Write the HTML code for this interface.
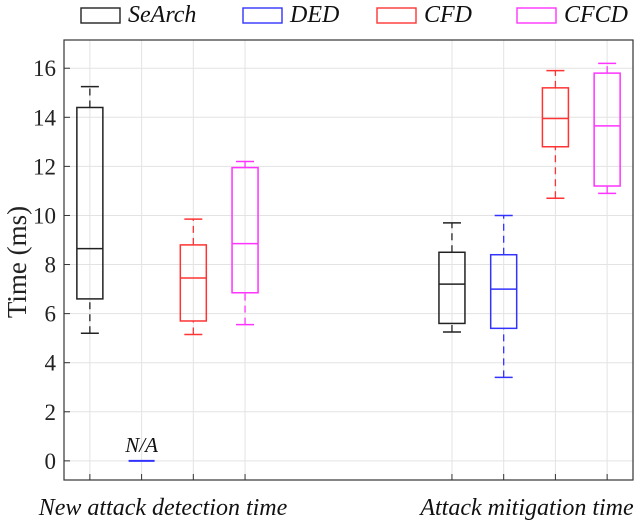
<!DOCTYPE html>
<html><head><meta charset="utf-8"><style>
html,body{margin:0;padding:0;background:#fff;}
svg{display:block;font-family:"Liberation Serif",serif;}
</style></head><body>
<svg id="chart" width="640" height="520" viewBox="0 0 640 520" xmlns="http://www.w3.org/2000/svg"></svg>
<script>
const seriesNames = ["SeArch","DED","CFD","CFCD"];
const seriesColors = ["#222","#33f","#f33","#f3f"];
const categories = ["New attack detection time","Attack mitigation time"];
const positions = [[1,2,3,4],[8,9,10,11]];
// [low, q1, median, q3, high] per series, per category; null = N/A
const searchVals = [[5.2,6.6,8.65,14.4,15.25],[5.25,5.6,7.2,8.5,9.7]];
const dedVals = [null,[3.4,5.4,7.0,8.4,10.0]];
const cfdVals = [[5.15,5.7,7.45,8.8,9.85],[10.7,12.8,13.95,15.2,15.9]];
const cfcdVals = [[5.55,6.85,8.85,11.95,12.2],[10.9,11.2,13.65,15.8,16.2]];
const yTicks = [0,2,4,6,8,10,12,14,16];

const allVals=[searchVals,dedVals,cfdVals,cfcdVals];
const L=64,R=633,T=40,B=480,xmin=0.5,xmax=11.5,ymin=-0.78,ymax=17.15;
const xs=v=>L+(v-xmin)/(xmax-xmin)*(R-L);
const ys=v=>B-(v-ymin)/(ymax-ymin)*(B-T);
const svg=document.getElementById('chart');
const NS="http://www.w3.org/2000/svg";
function mk(tag,attrs,parent){const e=document.createElementNS(NS,tag);for(const k in attrs)e.setAttribute(k,attrs[k]);(parent||svg).appendChild(e);return e;}

const grid=mk('g',{});


yTicks.forEach(t=>{mk('line',{x1:L,x2:R,y1:ys(t),y2:ys(t),stroke:'#e3e3e3','stroke-width':1},grid);});
positions.flat().forEach(p=>{mk('line',{x1:xs(p),x2:xs(p),y1:T,y2:B,stroke:'#e3e3e3','stroke-width':1},grid);});

allVals.forEach((sv,si)=>{
  sv.forEach((v,ci)=>{
    const cx=xs(positions[ci][si]);
    const g=mk('g',{});
    
    
    const c=seriesColors[si];
    if(!v){
      mk('line',{x1:cx-13,x2:cx+13,y1:ys(0),y2:ys(0),stroke:c,'stroke-width':2},g);
      const t=mk('text',{x:cx,y:ys(0)-9,'text-anchor':'middle','font-size':21,'font-style':'italic',fill:'#111'},g);
      t.textContent='N/A';
      
      
      return;
    }
    const hw=13,cw=9;
    mk('line',{x1:cx,x2:cx,y1:ys(v[3]),y2:ys(v[4]),stroke:c,'stroke-width':1.3,'stroke-dasharray':'7,5'},g);
    mk('line',{x1:cx,x2:cx,y1:ys(v[0]),y2:ys(v[1]),stroke:c,'stroke-width':1.3,'stroke-dasharray':'7,5'},g);
    mk('line',{x1:cx-cw,x2:cx+cw,y1:ys(v[4]),y2:ys(v[4]),stroke:c,'stroke-width':1.5},g);
    mk('line',{x1:cx-cw,x2:cx+cw,y1:ys(v[0]),y2:ys(v[0]),stroke:c,'stroke-width':1.5},g);
    mk('rect',{x:cx-hw,y:ys(v[3]),width:2*hw,height:ys(v[1])-ys(v[3]),fill:'none',stroke:c,'stroke-width':1.5},g);
    mk('line',{x1:cx-hw,x2:cx+hw,y1:ys(v[2]),y2:ys(v[2]),stroke:c,'stroke-width':1.5},g);
  });
});

const ax=mk('rect',{x:L,y:T,width:R-L,height:B-T,fill:'none',stroke:'#333','stroke-width':1.2});


yTicks.forEach(t=>{
  mk('line',{x1:L,x2:L+6,y1:ys(t),y2:ys(t),stroke:'#333'});
  const tx=mk('text',{x:L-8,y:ys(t)+8,'text-anchor':'end','font-size':23,fill:'#222'});
  tx.textContent=t;
  
  
});
positions.flat().forEach(p=>{mk('line',{x1:xs(p),x2:xs(p),y1:B,y2:B-6,stroke:'#333'});});
const yt=mk('text',{x:0,y:0,transform:'translate(26,262) rotate(-90)','text-anchor':'middle','font-size':27,fill:'#222'});
yt.textContent='Time (ms)';


categories.forEach((c,i)=>{
  const cx=i?527:163;
  const t=mk('text',{x:cx,y:515,'text-anchor':'middle','font-size':24,'font-style':'italic',fill:'#111'});
  t.textContent=c;
  
  
});
const lx=[81,243,377,517];
seriesNames.forEach((n,i)=>{
  const g=mk('g',{});
  
  
  mk('rect',{x:lx[i],y:8,width:39,height:15,fill:'none',stroke:seriesColors[i],'stroke-width':1.4},g);
  const t=mk('text',{x:lx[i]+47,y:22,'font-size':24,'font-style':'italic',fill:'#111'},g);
  t.textContent=n;
});
</script>
</body></html>
